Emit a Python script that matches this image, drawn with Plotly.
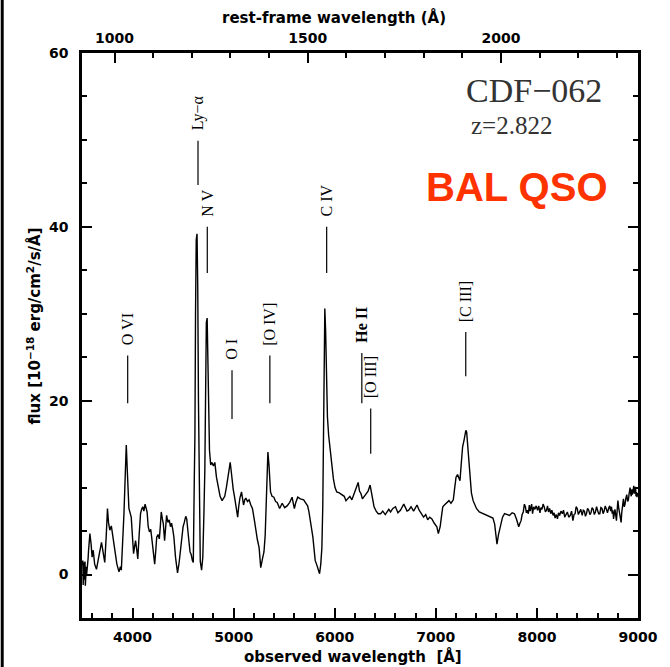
import plotly.graph_objects as go

# Observed-frame spectrum of CDF-062 (wavelength in Angstrom, flux in 1e-18 erg/cm2/s/A)
wave = [
    3502, 3505, 3508, 3512, 3515, 3518, 3521, 3524, 3527, 3530,
    3533, 3536, 3539, 3542, 3546, 3550, 3555, 3560, 3565, 3570,
    3578, 3590, 3600, 3611, 3625, 3643, 3660, 3675, 3693, 3710,
    3725, 3740, 3752, 3762, 3775, 3790, 3807, 3825, 3845, 3866,
    3880, 3889, 3900, 3915, 3928, 3938, 3948, 3964, 3987, 4000,
    4010, 4020, 4030, 4042, 4052, 4065, 4079, 4090, 4101, 4112,
    4124, 4144, 4155, 4167, 4180, 4193, 4205, 4219, 4230, 4239,
    4252, 4265, 4275, 4284, 4295, 4304, 4317, 4327, 4337, 4350,
    4363, 4375, 4386, 4398, 4409, 4425, 4445, 4460, 4478, 4490,
    4500, 4512, 4526, 4536, 4546, 4558, 4569, 4580, 4592, 4601,
    4611, 4617, 4623, 4630, 4638, 4645, 4652, 4660, 4670, 4683,
    4695, 4706, 4715, 4722, 4730, 4738, 4745, 4753, 4761, 4773,
    4785, 4800, 4814, 4830, 4846, 4866, 4886, 4900, 4912, 4928,
    4944, 4955, 4966, 4975, 4985, 4996, 5008, 5025, 5040, 5050,
    5062, 5078, 5098, 5110, 5121, 5137, 5153, 5170, 5186, 5202,
    5219, 5235, 5252, 5268, 5285, 5300, 5312, 5323, 5332, 5339,
    5350, 5365, 5380, 5398, 5415, 5431, 5455, 5480, 5505, 5529,
    5555, 5578, 5590, 5601, 5615, 5634, 5660, 5693, 5715, 5732,
    5745, 5758, 5770, 5784, 5796, 5807, 5820, 5830, 5840, 5850,
    5862, 5873, 5882, 5889, 5895, 5902, 5910, 5918, 5928, 5940,
    5954, 5970, 5987, 6003, 6020, 6045, 6069, 6094, 6111, 6130,
    6150, 6170, 6190, 6209, 6222, 6232, 6245, 6260, 6274, 6290,
    6310, 6330, 6350, 6365, 6378, 6389, 6410, 6430, 6454, 6475,
    6500, 6520, 6535, 6552, 6575, 6601, 6625, 6650, 6683, 6700,
    6715, 6732, 6755, 6780, 6814, 6835, 6858, 6879, 6900, 6920,
    6940, 6961, 6985, 7010, 7025, 7043, 7055, 7069, 7085, 7108,
    7130, 7150, 7173, 7185, 7200, 7215, 7230, 7239, 7252, 7265,
    7280, 7290, 7297, 7305, 7314, 7325, 7337, 7352, 7369, 7385,
    7402, 7430, 7467, 7490, 7520, 7549, 7565, 7582, 7595, 7605,
    7620, 7637, 7660, 7680, 7705, 7729, 7755, 7778, 7800, 7820,
    7832, 7843, 7854, 7865, 7876, 7886, 7896, 7905, 7915, 7925,
    7933, 7940, 7948, 7957, 7968, 7980, 7993, 8006, 8018, 8030,
    8040, 8050, 8061, 8072, 8084, 8095, 8105, 8115, 8126, 8137,
    8148, 8160, 8170, 8180, 8192, 8203, 8214, 8225, 8238, 8252,
    8263, 8275, 8288, 8301, 8315, 8330, 8343, 8356, 8367, 8378,
    8388, 8399, 8410, 8420, 8434, 8448, 8459, 8470, 8480, 8490,
    8501, 8513, 8524, 8535, 8546, 8557, 8568, 8579, 8590, 8600,
    8611, 8622, 8633, 8644, 8655, 8665, 8676, 8688, 8698, 8709,
    8720, 8730, 8738, 8745, 8752, 8758, 8765, 8772, 8780, 8787,
    8794, 8801, 8810, 8818, 8826, 8833, 8839, 8845, 8851, 8856,
    8863, 8870, 8880, 8889, 8897, 8905, 8913, 8922, 8928, 8933,
    8939, 8944, 8951, 8958, 8964, 8971, 8976, 8980, 8985, 8990,
    8996,
]
flux = [
    1.0, -0.5, 1.6, -1.2, 0.8, -0.6, 1.4, -0.2, 0.5, 1.5,
    -1.3, 0.2, -0.8, 0.9, 0.0, 0.4, 1.2, 1.8, 2.8, 3.6,
    4.7, 3.5, 2.0, 2.8, 1.2, 0.6, 1.5, 2.6, 3.7, 2.5,
    1.4, 4.5, 7.6, 6.0, 5.1, 5.6, 4.3, 2.5, 1.2, 0.3,
    0.9, 0.5, 3.0, 7.0, 11.5, 14.9, 12.0, 7.6, 6.6, 4.5,
    2.4, 3.2, 3.9, 2.8, 1.8, 4.5, 7.0, 7.5, 7.8, 7.3,
    8.1, 7.2, 5.5, 4.9, 5.2, 3.9, 2.6, 1.2, 2.8, 4.3,
    4.6, 4.1, 5.6, 7.2, 6.4, 5.9, 3.9, 5.5, 6.8, 6.0,
    6.3, 5.5, 5.9, 5.2, 4.3, 2.0, 0.2, 1.3, 3.1, 4.6,
    5.5, 6.0, 6.7, 6.4, 5.5, 3.8, 2.6, 2.3, 1.6, 1.4,
    11.2, 16.0, 30.0, 38.5, 39.2, 33.0, 20.0, 8.0, 1.5, 0.5,
    2.0, 7.0, 12.0, 20.0, 29.0, 29.5, 24.0, 16.0, 14.3, 12.6,
    12.9, 12.5, 12.9, 11.2, 10.1, 9.0, 8.5, 8.8, 9.0, 10.0,
    11.2, 12.2, 12.9, 12.0, 10.8, 9.8, 9.0, 7.5, 6.6, 7.8,
    8.8, 9.5, 8.0, 8.6, 8.8, 8.4, 8.6, 8.0, 7.6, 6.5,
    5.1, 4.0, 3.1, 0.8, 1.8, 2.6, 4.5, 7.6, 11.5, 14.1,
    12.5, 9.5, 9.0, 8.9, 8.4, 8.3, 7.6, 8.2, 7.7, 7.9,
    8.3, 8.9, 8.2, 7.6, 8.3, 8.9, 8.7, 8.6, 8.2, 7.9,
    7.2, 6.3, 5.4, 4.3, 2.9, 1.6, 1.2, 0.9, 0.5, 0.1,
    1.2, 3.1, 8.0, 15.4, 24.0, 30.6, 28.0, 24.0, 18.1, 16.0,
    14.6, 12.5, 11.0, 10.0, 9.5, 9.4, 9.2, 9.0, 8.5, 8.8,
    9.0, 8.6, 9.3, 9.7, 10.2, 10.6, 9.6, 9.3, 8.7, 9.0,
    9.3, 9.6, 10.3, 9.2, 8.4, 7.8, 7.3, 7.0, 7.0, 7.3,
    6.9, 7.3, 7.5, 7.2, 7.6, 7.8, 7.1, 7.4, 8.1, 7.7,
    7.3, 7.4, 7.8, 7.3, 8.0, 7.4, 7.0, 6.6, 6.9, 6.3,
    6.6, 6.4, 5.9, 5.5, 4.7, 5.5, 6.6, 7.8, 8.0, 8.3,
    8.5, 8.2, 8.6, 9.8, 11.2, 11.5, 11.0, 10.8, 12.8, 14.7,
    15.5, 16.3, 16.6, 16.4, 15.1, 13.0, 10.8, 9.4, 8.5, 8.0,
    7.6, 7.2, 7.0, 6.9, 6.8, 6.6, 6.5, 5.8, 4.5, 3.5,
    4.6, 5.5, 6.6, 7.0, 6.9, 6.8, 7.1, 7.0, 6.3, 5.5,
    5.9, 6.2, 6.9, 7.2, 8.1, 7.8, 7.1, 7.4, 7.0, 8.0,
    7.3, 7.6, 8.1, 7.0, 7.8, 7.5, 7.9, 7.4, 7.9, 7.1,
    7.7, 7.5, 8.1, 7.8, 7.2, 7.4, 7.9, 7.2, 7.6, 7.0,
    7.4, 6.8, 7.1, 6.5, 6.9, 6.4, 7.1, 6.8, 7.3, 7.0,
    7.4, 6.6, 7.0, 7.2, 6.6, 6.8, 7.3, 6.2, 6.9, 7.0,
    7.8, 7.6, 6.9, 7.1, 7.5, 6.8, 7.4, 7.3, 6.7, 7.0,
    7.6, 7.4, 6.9, 7.1, 7.7, 7.5, 6.9, 7.2, 7.8, 7.4,
    7.0, 7.0, 7.7, 7.6, 7.0, 7.3, 7.9, 7.5, 7.1, 7.6,
    7.9, 7.3, 7.8, 7.0, 7.4, 6.4, 7.2, 7.5, 6.8, 6.2,
    7.4, 8.5, 7.6, 7.0, 6.5, 6.0, 7.1, 7.8, 8.2, 8.7,
    7.8, 8.0, 8.8, 9.2, 8.4, 8.6, 9.4, 10.0, 9.3, 9.0,
    9.8, 9.2, 9.6, 10.2, 9.3, 9.6, 10.1, 9.0, 9.5, 8.9,
    9.4,
]

redshift = 2.822

# Emission-line identifications (rest-frame wavelength, marker extent in flux units)
line_names = ["O VI", "Ly−α", "N V", "O I", "[O IV]", "C IV", "<b>He II</b>", "[O III]", "[C III]"]
line_rest = [1034, 1216, 1240, 1304, 1402, 1549, 1640, 1663, 1909]
marker_top = [25.2, 49.9, 40.0, 23.5, 25.2, 40.0, 25.5, 19.1, 27.9]
marker_bottom = [19.7, 44.8, 34.7, 17.9, 19.7, 34.7, 19.7, 13.9, 22.8]

obs_range = [3500, 9000]
flux_range = [-5, 60]

fig = go.Figure()

fig.add_trace(go.Scatter(
    x=wave, y=flux, mode="lines",
    line=dict(color="black", width=1.4),
    xaxis="x", yaxis="y", hoverinfo="skip", showlegend=False,
))

# Short vertical markers for each identified line, placed on the rest-frame axis
seg_x, seg_y = [], []
for lam, top, bot in zip(line_rest, marker_top, marker_bottom):
    seg_x += [lam, lam, None]
    seg_y += [bot, top, None]
fig.add_trace(go.Scatter(
    x=seg_x, y=seg_y, mode="lines",
    line=dict(color="black", width=1.2),
    xaxis="x2", yaxis="y", hoverinfo="skip", showlegend=False,
))

annotations = []
for name, lam, top in zip(line_names, line_rest, marker_top):
    annotations.append(dict(
        x=lam, y=top, xref="x2", yref="y",
        text=name, textangle=-90, showarrow=False,
        xanchor="center", yanchor="bottom", yshift=8,
        font=dict(family="Liberation Serif", size=16, color="black"),
    ))

title_font = dict(family="DejaVu Sans", size=15, color="black", weight="bold")
annotations += [
    dict(x=0.488, y=-0.069, xref="paper", yref="paper", showarrow=False,
         text="observed wavelength  [Å]", font=title_font,
         xanchor="center", yanchor="middle"),
    dict(x=0.453, y=1.062, xref="paper", yref="paper", showarrow=False,
         text="rest-frame wavelength (Å)", font=title_font,
         xanchor="center", yanchor="middle"),
    dict(x=-0.087, y=0.517, xref="paper", yref="paper", showarrow=False,
         text="flux [10<sup>−18</sup> erg/cm<sup>2</sup>/s/Å]", font=title_font,
         textangle=-90, xanchor="center", yanchor="middle"),
    dict(x=0.813, y=0.933, xref="paper", yref="paper", showarrow=False,
         text="CDF−062", font=dict(family="Liberation Serif", size=34, color="#333333"),
         xanchor="center", yanchor="middle"),
    dict(x=0.772, y=0.871, xref="paper", yref="paper", showarrow=False,
         text="z=2.822", font=dict(family="Liberation Serif", size=25, color="#333333"),
         xanchor="center", yanchor="middle"),
    dict(x=0.783, y=0.763, xref="paper", yref="paper", showarrow=False,
         text="BAL QSO", font=dict(family="Liberation Sans", size=40, color="#FF3300", weight="bold"),
         xanchor="center", yanchor="middle"),
]

tick_font = dict(family="DejaVu Sans", size=14, color="black", weight="bold")
axis_common = dict(
    showgrid=False, zeroline=False, showline=True, linecolor="black", linewidth=2.5,
    ticks="inside", ticklen=10, tickwidth=2, tickcolor="black", tickfont=tick_font,
)

fig.update_layout(
    width=670, height=667,
    margin=dict(l=82, r=27, t=53, b=49),
    paper_bgcolor="white", plot_bgcolor="white",
    showlegend=False,
    xaxis=dict(
        range=obs_range, tick0=0, dtick=1000, side="bottom",
        minor=dict(dtick=200, ticks="inside", ticklen=5, tickwidth=2, tickcolor="black"),
        ticklabelstandoff=4,
        **axis_common,
    ),
    xaxis2=dict(
        range=[obs_range[0] / (1 + redshift), obs_range[1] / (1 + redshift)],
        overlaying="x", side="top", anchor="y", tick0=0, dtick=500,
        minor=dict(dtick=100, ticks="inside", ticklen=5, tickwidth=2, tickcolor="black"),
        ticklabelstandoff=2,
        **axis_common,
    ),
    yaxis=dict(
        range=flux_range, tick0=0, dtick=20, mirror="ticks",
        minor=dict(dtick=5, ticks="inside", ticklen=5, tickwidth=2, tickcolor="black"),
        ticklabelstandoff=8,
        **axis_common,
    ),
    annotations=annotations,
    shapes=[dict(type="rect", xref="paper", yref="paper",
                 x0=-82 / 561, x1=-79 / 561, y0=-49 / 565, y1=618 / 565,
                 fillcolor="black", line=dict(width=0), layer="above")],
)

fig.write_html("out.html")
